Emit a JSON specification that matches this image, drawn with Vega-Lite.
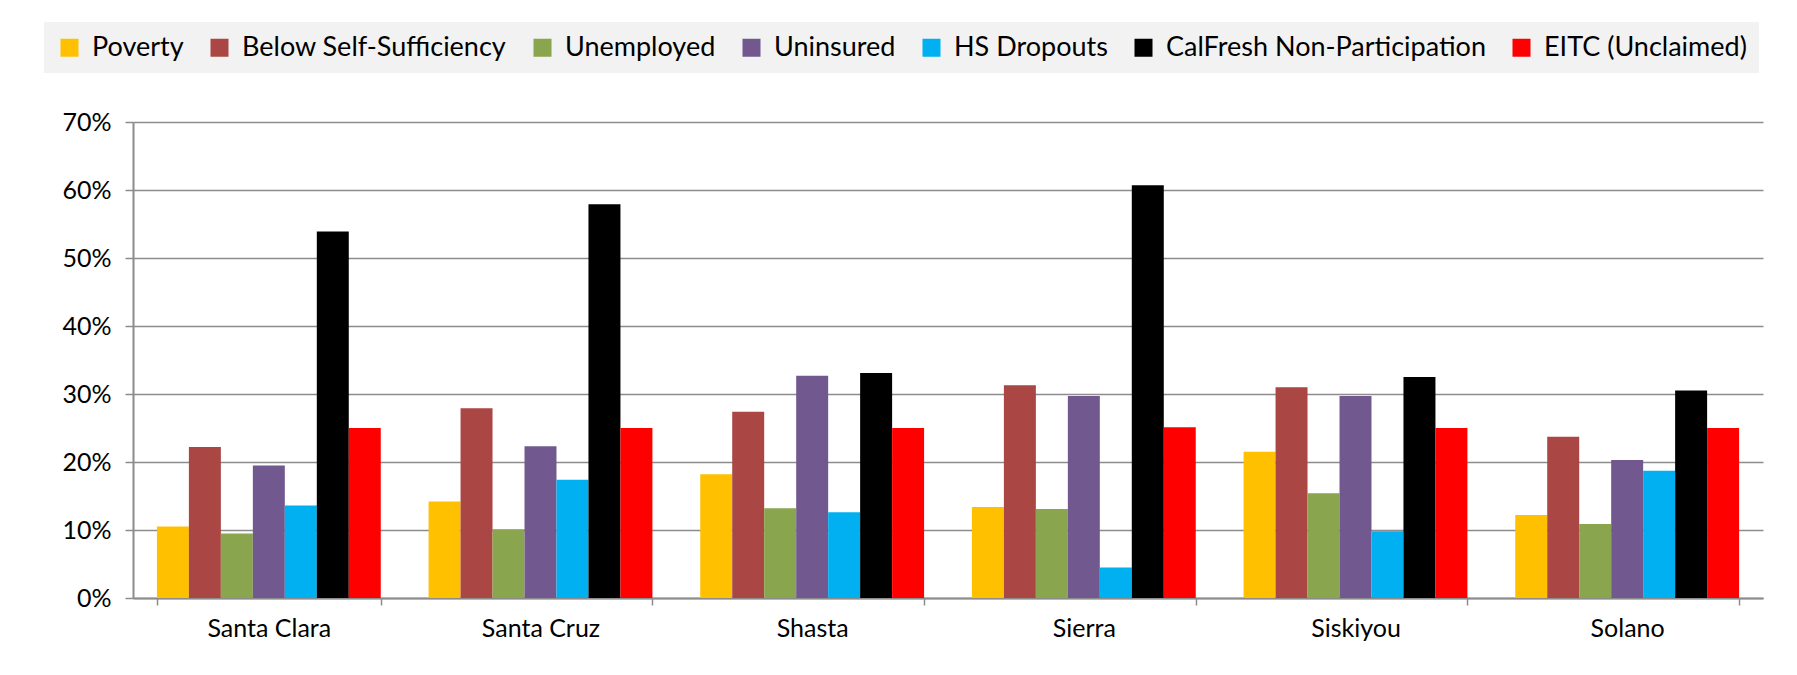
{
  "$schema": "https://vega.github.io/schema/vega-lite/v6.json",
  "width": 1630,
  "height": 476,
  "autosize": {"type": "none"},
  "padding": {"left": 133, "top": 122, "right": 34, "bottom": 77},
  "background": "white",
  "data": {
    "values": [
      {"county": "Santa Clara", "category": "Poverty", "value": 0.105},
      {"county": "Santa Clara", "category": "Below Self-Sufficiency", "value": 0.222},
      {"county": "Santa Clara", "category": "Unemployed", "value": 0.095},
      {"county": "Santa Clara", "category": "Uninsured", "value": 0.195},
      {"county": "Santa Clara", "category": "HS Dropouts", "value": 0.136},
      {"county": "Santa Clara", "category": "CalFresh Non-Participation", "value": 0.539},
      {"county": "Santa Clara", "category": "EITC (Unclaimed)", "value": 0.250},
      {"county": "Santa Cruz", "category": "Poverty", "value": 0.142},
      {"county": "Santa Cruz", "category": "Below Self-Sufficiency", "value": 0.279},
      {"county": "Santa Cruz", "category": "Unemployed", "value": 0.101},
      {"county": "Santa Cruz", "category": "Uninsured", "value": 0.223},
      {"county": "Santa Cruz", "category": "HS Dropouts", "value": 0.174},
      {"county": "Santa Cruz", "category": "CalFresh Non-Participation", "value": 0.579},
      {"county": "Santa Cruz", "category": "EITC (Unclaimed)", "value": 0.250},
      {"county": "Shasta", "category": "Poverty", "value": 0.182},
      {"county": "Shasta", "category": "Below Self-Sufficiency", "value": 0.274},
      {"county": "Shasta", "category": "Unemployed", "value": 0.132},
      {"county": "Shasta", "category": "Uninsured", "value": 0.327},
      {"county": "Shasta", "category": "HS Dropouts", "value": 0.126},
      {"county": "Shasta", "category": "CalFresh Non-Participation", "value": 0.331},
      {"county": "Shasta", "category": "EITC (Unclaimed)", "value": 0.250},
      {"county": "Sierra", "category": "Poverty", "value": 0.134},
      {"county": "Sierra", "category": "Below Self-Sufficiency", "value": 0.313},
      {"county": "Sierra", "category": "Unemployed", "value": 0.131},
      {"county": "Sierra", "category": "Uninsured", "value": 0.297},
      {"county": "Sierra", "category": "HS Dropouts", "value": 0.045},
      {"county": "Sierra", "category": "CalFresh Non-Participation", "value": 0.607},
      {"county": "Sierra", "category": "EITC (Unclaimed)", "value": 0.251},
      {"county": "Siskiyou", "category": "Poverty", "value": 0.215},
      {"county": "Siskiyou", "category": "Below Self-Sufficiency", "value": 0.310},
      {"county": "Siskiyou", "category": "Unemployed", "value": 0.154},
      {"county": "Siskiyou", "category": "Uninsured", "value": 0.297},
      {"county": "Siskiyou", "category": "HS Dropouts", "value": 0.098},
      {"county": "Siskiyou", "category": "CalFresh Non-Participation", "value": 0.325},
      {"county": "Siskiyou", "category": "EITC (Unclaimed)", "value": 0.250},
      {"county": "Solano", "category": "Poverty", "value": 0.122},
      {"county": "Solano", "category": "Below Self-Sufficiency", "value": 0.237},
      {"county": "Solano", "category": "Unemployed", "value": 0.109},
      {"county": "Solano", "category": "Uninsured", "value": 0.203},
      {"county": "Solano", "category": "HS Dropouts", "value": 0.187},
      {"county": "Solano", "category": "CalFresh Non-Participation", "value": 0.305},
      {"county": "Solano", "category": "EITC (Unclaimed)", "value": 0.250}
    ]
  },
  "mark": {"type": "bar"},
  "encoding": {
    "x": {
      "field": "county",
      "type": "nominal",
      "sort": ["Santa Clara", "Santa Cruz", "Shasta", "Sierra", "Siskiyou", "Solano"],
      "scale": {"paddingInner": 0.176, "paddingOuter": 0.088},
      "axis": {
        "title": null,
        "labelAngle": 0,
        "tickBand": "extent",
        "tickSize": 7,
        "tickColor": "#8c8c8c",
        "tickWidth": 1.5,
        "domainColor": "#8c8c8c",
        "domainWidth": 2,
        "labelFontSize": 25,
        "labelColor": "#000000",
        "labelPadding": 11
      }
    },
    "xOffset": {
      "field": "category",
      "type": "nominal",
      "sort": ["Poverty", "Below Self-Sufficiency", "Unemployed", "Uninsured", "HS Dropouts", "CalFresh Non-Participation", "EITC (Unclaimed)"],
      "scale": {"paddingInner": 0, "paddingOuter": 0}
    },
    "y": {
      "field": "value",
      "type": "quantitative",
      "scale": {"domain": [0, 0.7], "nice": false},
      "axis": {
        "title": null,
        "format": ".0%",
        "values": [0, 0.1, 0.2, 0.3, 0.4, 0.5, 0.6, 0.7],
        "grid": true,
        "gridColor": "#8c8c8c",
        "gridWidth": 1.5,
        "domainColor": "#8c8c8c",
        "domainWidth": 2,
        "tickColor": "#8c8c8c",
        "tickSize": 8,
        "tickWidth": 1.5,
        "labelFontSize": 25,
        "labelColor": "#000000",
        "labelPadding": 14
      }
    },
    "color": {
      "field": "category",
      "type": "nominal",
      "scale": {
        "domain": ["Poverty", "Below Self-Sufficiency", "Unemployed", "Uninsured", "HS Dropouts", "CalFresh Non-Participation", "EITC (Unclaimed)"],
        "range": ["#FFC000", "#AA4643", "#89A54E", "#71588F", "#00B0F0", "#000000", "#FF0000"]
      },
      "legend": {
        "title": null,
        "orient": "none",
        "legendX": -89,
        "legendY": -100,
        "direction": "horizontal",
        "columns": 7,
        "fillColor": "#f2f2f2",
        "padding": 12,
        "symbolType": "square",
        "symbolSize": 324,
        "symbolStrokeWidth": 0,
        "symbolOpacity": 1,
        "labelFontSize": 27,
        "labelColor": "#000000",
        "labelOffset": 9,
        "columnPadding": 22,
        "labelLimit": 0
      }
    }
  },
  "config": {"view": {"stroke": null}, "font": "Lato"}
}
